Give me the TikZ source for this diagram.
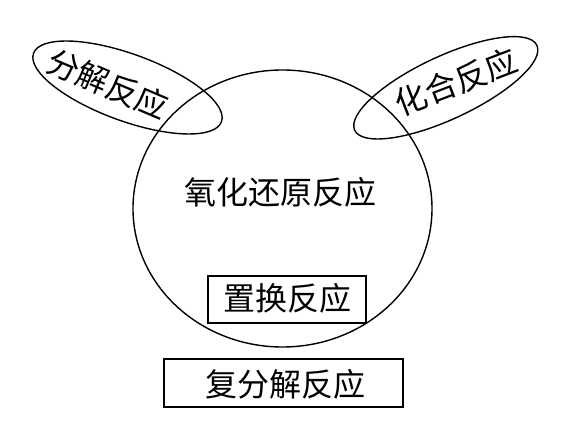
\documentclass[tikz,border=0pt]{standalone}
\usepackage{fontspec}
\newfontfamily\cjk{Noto Sans CJK SC}
\usetikzlibrary{shapes.geometric}
\tikzset{
  shapeline/.style={draw=black, line width=1.4pt, inner sep=0pt, outer sep=0pt},
  ring/.style={shapeline, ellipse},
  boxnode/.style={shapeline, rectangle},
  label/.style={font=\cjk\fontsize{32}{36}\selectfont, inner sep=0pt, text=black}
}
\begin{document}
\begin{tikzpicture}[x=1pt,y=-1pt]
  \useasboundingbox[fill=white] (0,0) rectangle (563,438);
  % big circle
  \node[ring, minimum width=299pt, minimum height=277pt] (redox) at (282.5,208.5) {};
  % left ellipse
  \node[ring, minimum width=200pt, minimum height=67pt, rotate=-20] (decomp) at (127.5,87.5) {};
  % right ellipse
  \node[ring, minimum width=201pt, minimum height=63pt, rotate=25] (comb) at (445.8,87.8) {};
  % boxes
  \node[boxnode, minimum width=158pt, minimum height=47pt] (subst) at (287,299.5) {};
  \node[boxnode, minimum width=239pt, minimum height=48pt] (double) at (283.5,383) {};
  % texts
  \node[label] (redoxtxt) at (280.5,192) {氧化还原反应};
  \node[label, rotate=-23] (decomptxt) at (108,84) {分解反应};
  \node[label, rotate=21] (combtxt) at (456,82) {化合反应};
  \node[label] (substtxt) at (287,298) {置换反应};
  \node[label] (doubletxt) at (285,384) {复分解反应};
\end{tikzpicture}
\end{document}
